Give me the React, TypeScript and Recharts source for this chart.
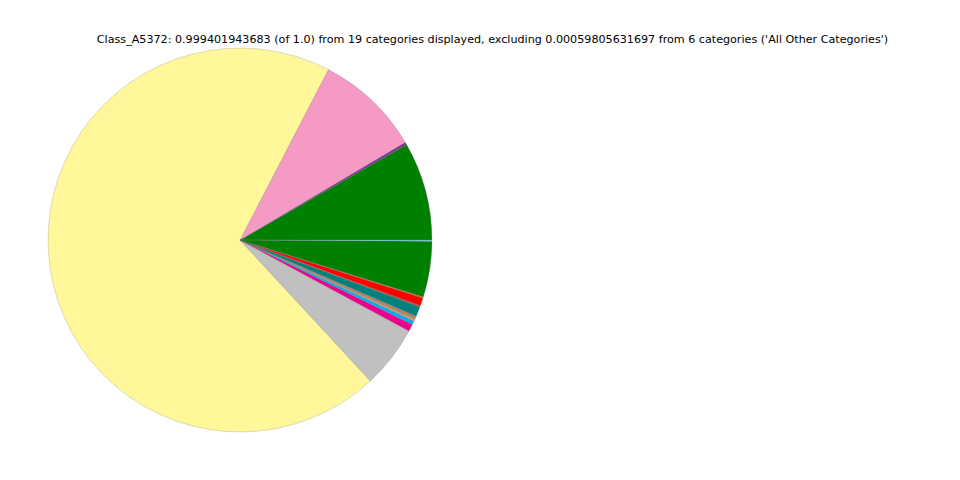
import { PieChart, Pie, Cell } from 'recharts';

const categories = [
  'Cat_01', 'Cat_02', 'Cat_03', 'Cat_04', 'Cat_05', 'Cat_06', 'Cat_07', 'Cat_08',
  'Cat_09', 'Cat_10', 'Cat_11', 'Cat_12', 'Cat_13', 'Cat_14', 'Cat_15', 'Cat_16',
];

const shares = [
  0.0828, 0.0022, 0.0889, 0.6953, 0.0525, 0.0061, 0.0033, 0.0017,
  0.0008, 0.0017, 0.0083, 0.0011, 0.0069, 0.0008, 0.0469, 0.0011,
];

const colors = [
  '#008000', '#7b3294', '#f59ac4', '#fff799', '#c0c0c0', '#ec008c', '#00b0f0', '#d2a06e',
  '#8a7a6a', '#c08050', '#008080', '#a0522d', '#ff0000', '#d2691e', '#008000', '#70d4e4',
];

const title =
  "Class_A5372: 0.999401943683 (of 1.0) from 19 categories displayed, excluding 0.00059805631697 from 6 categories ('All Other Categories')";

const data = categories.map((name, i) => ({ name, value: shares[i] }));

export default function App() {
  return (
    <div style={{ position: 'absolute', left: 0, top: 0, width: 960, height: 480, background: '#fff' }}>
      <div
        style={{
          position: 'absolute',
          left: 0,
          top: 33,
          width: 985,
          textAlign: 'center',
          fontFamily: 'DejaVu Sans',
          fontSize: 11.15,
          color: '#000',
          whiteSpace: 'nowrap',
        }}
      >
        {title}
      </div>
      <PieChart width={960} height={480} margin={{ top: 0, right: 0, bottom: 0, left: 0 }}>
        <Pie
          data={data}
          dataKey="value"
          nameKey="name"
          cx={240}
          cy={240}
          outerRadius={192}
          startAngle={0}
          endAngle={360}
          stroke="#777"
          strokeWidth={0.25}
          isAnimationActive={false}
        >
          {data.map((d, i) => (
            <Cell key={d.name} fill={colors[i]} />
          ))}
        </Pie>
      </PieChart>
    </div>
  );
}
